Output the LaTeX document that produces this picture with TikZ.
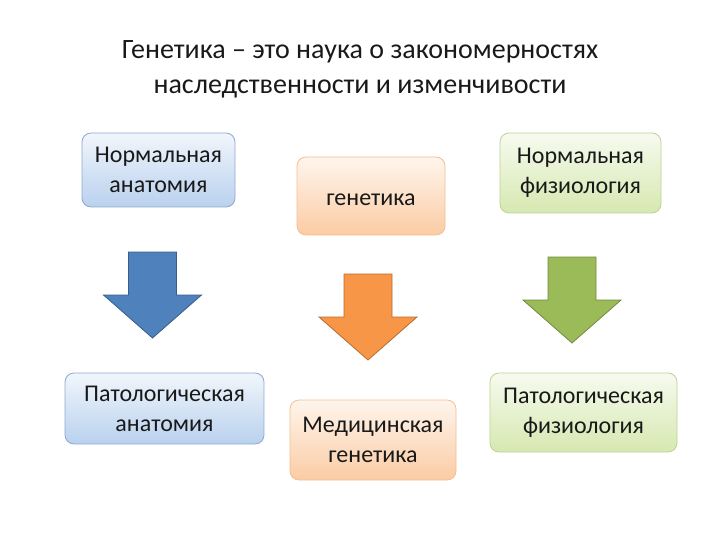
\documentclass[tikz,border=0pt]{standalone}
\usepackage{fontspec}
\setmainfont{Carlito}
\usetikzlibrary{positioning}
\definecolor{boxblue}{HTML}{B9D1EE}
\definecolor{boxblueln}{HTML}{8EA9CC}
\definecolor{boxorange}{HTML}{FBCCA4}
\definecolor{boxorangeln}{HTML}{F5BE94}
\definecolor{boxgreen}{HTML}{D6E8B0}
\definecolor{boxgreenln}{HTML}{BDD394}
\definecolor{arrblue}{HTML}{4F81BD}
\definecolor{arrblueln}{HTML}{385D8A}
\definecolor{arrorange}{HTML}{F79646}
\definecolor{arrorangeln}{HTML}{B66D31}
\definecolor{arrgreen}{HTML}{9BBB59}
\definecolor{arrgreenln}{HTML}{71893F}
\tikzset{
  % блоки
  blk/.style={rounded corners=9pt,line width=0.8pt,align=center,
              font=\fontsize{24}{30}\selectfont,text=black!90,inner sep=0pt},
  bluebox/.style={blk,draw=boxblueln,top color=boxblue!20,bottom color=boxblue},
  orangebox/.style={blk,draw=boxorangeln,top color=boxorange!20,bottom color=boxorange},
  greenbox/.style={blk,draw=boxgreenln,top color=boxgreen!20,bottom color=boxgreen},
  % стрелки вниз
  downarr/.pic={
    \path[pic actions] (-24,0) -- (24,0) -- (24,43) -- (49,43)
      -- (0,86) -- (-49,43) -- (-24,43) -- cycle;
  },
  arr/.style={line width=0.8pt,line join=miter},
}
\begin{document}
\begin{tikzpicture}[x=1pt,y=-1pt]
  \useasboundingbox (0,0) rectangle (720,540);
  \node[align=center,font=\fontsize{28}{35}\selectfont,text=black!90] (title) at (360,69)
    {Генетика – это наука о закономерностях\\наследственности и изменчивости};
  \node[bluebox,minimum width=153pt,minimum height=74pt] (normanat) at (158.5,170)
    {Нормальная\\анатомия};
  \node[orangebox,minimum width=148pt,minimum height=78pt,text height=20pt,text depth=0pt] (gen) at (371,196)
    {генетика};
  \node[greenbox,minimum width=161pt,minimum height=80pt] (normfiz) at (580.5,173)
    {Нормальная\\физиология};
  \node[bluebox,minimum width=199pt,minimum height=71pt] (patanat) at (164.5,408.5)
    {Патологическая\\анатомия};
  \node[orangebox,minimum width=166pt,minimum height=80pt] (medgen) at (373,440)
    {Медицинская\\генетика};
  \node[greenbox,minimum width=187pt,minimum height=79pt] (patfiz) at (583.5,412.5)
    {Патологическая\\физиология};
  \pic[arr,fill=arrblue,draw=arrblueln] at (152.5,252) {downarr};
  \pic[arr,fill=arrorange,draw=arrorangeln] at (368,274) {downarr};
  \pic[arr,fill=arrgreen,draw=arrgreenln] at (572,257) {downarr};
\end{tikzpicture}
\end{document}
